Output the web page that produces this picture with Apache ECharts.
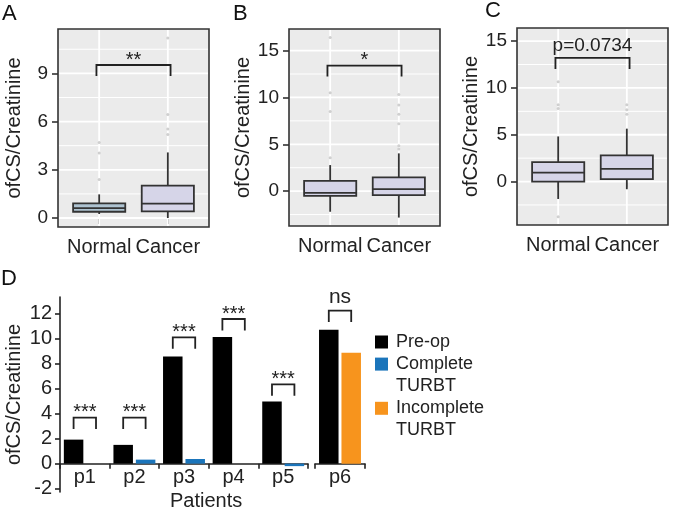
<!DOCTYPE html>
<html>
<head>
<meta charset="utf-8">
<script src="https://cdn.jsdelivr.net/npm/echarts@6/dist/echarts.min.js"></script>
<style>
html, body { margin: 0; padding: 0; background: #fff; }
#main { width: 673px; height: 512px; }
</style>
</head>
<body>
<div id="main"></div>
<script>
var groups = ['Normal', 'Cancer'];

// box stats per group: [lower whisker, Q1, median, Q3, upper whisker]
var boxA = [[0.25, 0.39, 0.62, 0.91, 1.47], [0, 0.41, 0.89, 2.02, 4.08]];
var boxB = [[-2.2, -0.5, -0.18, 1.1, 2.78], [-2.82, -0.43, 0.21, 1.47, 4.03]];
var boxC = [[-1.86, 0, 0.96, 2.07, 4.82], [-0.82, 0.25, 1.36, 2.79, 5.65]];
var boxFillA = ['#aec3d1', '#d6d5e8'];
var boxFillB = ['#d6d5e8', '#d6d5e8'];
var boxFillC = ['#d6d5e8', '#d6d5e8'];

// outliers: [group (1 or 2), value]
var outA = [[1, 2.4], [1, 4.04], [1, 4.7], [2, 5.19], [2, 5.54], [2, 6.44], [2, 11.2]];
var outB = [[1, 3.57], [1, 8.5], [1, 10.5], [1, 16.4], [2, 4.5], [2, 4.85], [2, 7.2], [2, 8.2], [2, 9.2], [2, 10.3]];
var outC = [[1, -3.75], [1, 7.8], [1, 8.2], [1, 10.65], [2, 7.2], [2, 7.68], [2, 8.2]];

// significance brackets: [x from, x to, top]
var sigA = [[0.96, 2.04, 9.52]];
var sigB = [[0.96, 2.04, 13.4]];
var sigC = [[0.96, 2.04, 13.2]];
var sigTextA = '**', sigTextB = '*', sigTextC = 'p=0.0734';

var ticksA = [0, 3, 6, 9];
var ticksBC = [0, 5, 10, 15];

// panel D
var patients = ['p1', 'p2', 'p3', 'p4', 'p5', 'p6'];
var preop = [1.92, 1.5, 8.58, 10.13, 4.98, 10.72];
var complete = [0, 0.32, 0.37, 0, -0.2, null];
var incomplete = [null, null, null, null, null, 8.88];
var dSigTop = [3.68, 3.68, 10.1, 11.57, 6.34, 12.24];
var dSigText = ['***', '***', '***', '***', '***', 'ns'];
var ticksD = [-2, 0, 2, 4, 6, 8, 10, 12];

var seriesNames = ['Pre-op', 'Complete\nTURBT', 'Incomplete\nTURBT'];
var seriesColors = ['#000000', '#1b75bb', '#f7941d'];

var FONT = '"Liberation Sans", Arial, sans-serif';
var TXT = '#222';
var BAR_W = 19.5;

var chart = echarts.init(document.getElementById('main'));

function gridLineData(majors, minors) {
  var d = [];
  minors.forEach(function (v) { d.push([0, v, 1]); });
  majors.forEach(function (v) { d.push([0, v, 1.8]); });
  [1, 2].forEach(function (v) { d.push([1, v, 1.8]); });
  return d;
}

function renderGridLine(params, api) {
  var cs = params.coordSys;
  var w = api.value(2);
  if (api.value(0) === 0) {
    var y = api.coord([1, api.value(1)])[1];
    return { type: 'line', shape: { x1: cs.x + 1, y1: y, x2: cs.x + cs.width - 1, y2: y },
      style: { stroke: '#ffffff', lineWidth: w } };
  }
  var x = api.coord([api.value(1), 0])[0];
  return { type: 'line', shape: { x1: x, y1: cs.y + 1, x2: x, y2: cs.y + cs.height - 1 },
    style: { stroke: '#ffffff', lineWidth: w } };
}

function boxRenderer(fills) {
  return function (params, api) {
    var x = api.value(0);
    var half = api.size([0.76, 0])[0] / 2;
    var lo = api.coord([x, api.value(1)]);
    var q1 = api.coord([x, api.value(2)]);
    var md = api.coord([x, api.value(3)]);
    var q3 = api.coord([x, api.value(4)]);
    var hi = api.coord([x, api.value(5)]);
    var st = { stroke: '#333333', lineWidth: 1.8 };
    return { type: 'group', children: [
      { type: 'line', shape: { x1: lo[0], y1: lo[1], x2: hi[0], y2: hi[1] }, style: st },
      { type: 'rect', shape: { x: q3[0] - half, y: q3[1], width: half * 2, height: q1[1] - q3[1] },
        style: { fill: fills[params.dataIndex], stroke: '#333333', lineWidth: 1.8 } },
      { type: 'line', shape: { x1: md[0] - half, y1: md[1], x2: md[0] + half, y2: md[1] }, style: st }
    ] };
  };
}

function sigRenderer(label, textGap, fontSize) {
  return function (params, api) {
    var a = api.coord([api.value(0), api.value(2)]);
    var b = api.coord([api.value(1), api.value(2)]);
    var leg = 11;
    return { type: 'group', children: [
      { type: 'polyline', shape: { points: [[a[0], a[1] + leg], a, b, [b[0], b[1] + leg]] },
        style: { stroke: '#222', lineWidth: 1.8, fill: null } },
      { type: 'text', x: (a[0] + b[0]) / 2, y: a[1] - textGap,
        style: { text: label, fill: TXT, font: fontSize + 'px ' + FONT, textAlign: 'center', textVerticalAlign: 'middle' } }
    ] };
  };
}

function boxData(stats) {
  return stats.map(function (s, i) { return [i + 1].concat(s); });
}

var grids = [
  { left: 58, top: 29, width: 151, height: 198 },
  { left: 289, top: 29, width: 151, height: 197 },
  { left: 517, top: 28, width: 151, height: 197 },
  { left: 60, top: 297, width: 248, height: 195 },
  { left: 315, top: 297, width: 50, height: 195 }
];
grids.forEach(function (g, i) {
  g.outerBoundsMode = 'none';
  g.containLabel = false;
  if (i < 3) {
    g.show = true;
    g.backgroundColor = '#ebebeb';
    g.borderColor = '#333333';
    g.borderWidth = 1.6;
  }
});

function boxXAxis(gi) {
  return {
    gridIndex: gi, type: 'value', min: 0.4, max: 2.6,
    splitLine: { show: false }, axisLine: { show: false },
    axisTick: { customValues: [1, 2], length: 6, lineStyle: { color: '#333', width: 1.6 } },
    axisLabel: { customValues: [1, 2], margin: 10, fontSize: 20, fontFamily: FONT, color: TXT,
      formatter: function (v) { return groups[Math.round(v) - 1]; } }
  };
}
function boxYAxis(gi, min, max, ticks) {
  return {
    gridIndex: gi, type: 'value', min: min, max: max,
    splitLine: { show: false }, axisLine: { show: false },
    axisTick: { customValues: ticks, length: 6, lineStyle: { color: '#333', width: 1.6 } },
    axisLabel: { customValues: ticks, margin: 10, fontSize: 19, fontFamily: FONT, color: TXT },
    name: 'ofCS/Creatinine', nameLocation: 'middle', nameGap: 34,
    nameTextStyle: { fontSize: 20, fontFamily: FONT, color: TXT }
  };
}

var xAxes = [boxXAxis(0), boxXAxis(1), boxXAxis(2)];
var yAxes = [boxYAxis(0, -0.56, 11.76, ticksA), boxYAxis(1, -3.72, 17.3, ticksBC), boxYAxis(2, -4.64, 16.4, ticksBC)];

var dAxisLine = { color: '#222', width: 1.6 };
[[3, 0, 5], [4, 5, 6]].forEach(function (part) {
  xAxes.push({
    gridIndex: part[0], type: 'category', data: patients.slice(part[1], part[2]),
    axisLine: { onZero: true, lineStyle: dAxisLine },
    axisTick: { show: true, length: 5, lineStyle: dAxisLine },
    axisLabel: { show: false }
  });
});
yAxes.push({
  gridIndex: 3, type: 'value', min: -2.27, max: 13.33,
  splitLine: { show: false },
  axisLine: { show: true, lineStyle: dAxisLine },
  axisTick: { show: true, customValues: ticksD, length: 5, lineStyle: dAxisLine },
  axisLabel: { customValues: ticksD, margin: 8, fontSize: 20, fontFamily: FONT, color: TXT },
  name: 'ofCS/Creatinine', nameLocation: 'middle', nameGap: 36,
  nameTextStyle: { fontSize: 20, fontFamily: FONT, color: TXT }
});
yAxes.push({ gridIndex: 4, type: 'value', min: -2.27, max: 13.33, show: false, splitLine: { show: false } });

var series = [];
var panels = [
  { box: boxA, fill: boxFillA, out: outA, sig: sigA, text: sigTextA, gap: 5, fs: 20,
    majors: ticksA, minors: [1.5, 4.5, 7.5, 10.5] },
  { box: boxB, fill: boxFillB, out: outB, sig: sigB, text: sigTextB, gap: 5, fs: 20,
    majors: ticksBC, minors: [-2.5, 2.5, 7.5, 12.5] },
  { box: boxC, fill: boxFillC, out: outC, sig: sigC, text: sigTextC, gap: 12, fs: 19,
    majors: ticksBC, minors: [-2.5, 2.5, 7.5, 12.5] }
];
panels.forEach(function (p, i) {
  series.push({ type: 'custom', xAxisIndex: i, yAxisIndex: i, z: 1, silent: true,
    data: gridLineData(p.majors, p.minors), renderItem: renderGridLine });
  series.push({ type: 'scatter', xAxisIndex: i, yAxisIndex: i, z: 2, silent: true,
    symbolSize: 3, itemStyle: { color: '#c4c4c4' }, data: p.out });
  series.push({ type: 'custom', xAxisIndex: i, yAxisIndex: i, z: 3, silent: true,
    data: boxData(p.box), renderItem: boxRenderer(p.fill) });
  series.push({ type: 'custom', xAxisIndex: i, yAxisIndex: i, z: 3, silent: true,
    data: p.sig, renderItem: sigRenderer(p.text, p.gap, p.fs) });
});

// panel D bars: grid 3 holds p1-p5, grid 4 holds p6
[[3, 0, 5], [4, 5, 6]].forEach(function (part) {
  var ai = part[0], from = part[1], to = part[2];
  series.push({ type: 'bar', name: 'Pre-op', xAxisIndex: ai, yAxisIndex: ai,
    barWidth: BAR_W, barGap: '15%', itemStyle: { color: seriesColors[0] },
    data: preop.slice(from, to) });
  series.push({ type: 'bar', name: 'Complete TURBT', xAxisIndex: ai, yAxisIndex: ai, stack: 'post' + ai,
    barWidth: BAR_W, barGap: '15%', itemStyle: { color: seriesColors[1] },
    data: complete.slice(from, to) });
  series.push({ type: 'bar', name: 'Incomplete TURBT', xAxisIndex: ai, yAxisIndex: ai, stack: 'post' + ai,
    barWidth: BAR_W, barGap: '15%', itemStyle: { color: seriesColors[2] },
    data: incomplete.slice(from, to) });
  var sigData = [];
  for (var k = from; k < to; k++) sigData.push([k - from, dSigTop[k], k]);
  series.push({ type: 'custom', xAxisIndex: ai, yAxisIndex: ai, z: 3, silent: true,
    data: sigData,
    renderItem: function (params, api) {
      var c = api.coord([api.value(0), api.value(1)]);
      var off = BAR_W * 1.15 / 2;
      var leg = 11.4;
      var label = dSigText[api.value(2)];
      var isNs = label === 'ns';
      return { type: 'group', children: [
        { type: 'polyline', shape: { points: [[c[0] - off, c[1] + leg], [c[0] - off, c[1]], [c[0] + off, c[1]], [c[0] + off, c[1] + leg]] },
          style: { stroke: '#222', lineWidth: 1.8, fill: null } },
        { type: 'text', x: c[0], y: c[1] - (isNs ? 13 : 5),
          style: { text: label, fill: TXT, font: (isNs ? 21 : 20) + 'px ' + FONT, textAlign: 'center', textVerticalAlign: 'middle' } }
      ] };
    } });
  // category labels hung below the zero line
  var labData = [];
  for (var j = from; j < to; j++) labData.push([j - from, 0, j]);
  series.push({ type: 'custom', xAxisIndex: ai, yAxisIndex: ai, z: 3, silent: true,
    data: labData,
    renderItem: function (params, api) {
      var c = api.coord([api.value(0), 0]);
      return { type: 'text', x: c[0], y: c[1] + 14,
        style: { text: patients[api.value(2)], fill: TXT, font: '20px ' + FONT, textAlign: 'center', textVerticalAlign: 'middle' } };
    } });
});

// legend for panel D
var legendChildren = [];
var lineIdx = 0;
seriesNames.forEach(function (name, i) {
  var y = lineIdx * 22.1;
  legendChildren.push({ type: 'rect', shape: { x: 0, y: y - 6.5, width: 13, height: 13 }, style: { fill: seriesColors[i] } });
  legendChildren.push({ type: 'text', x: 21, y: y - 11,
    style: { text: name, fill: TXT, font: '18px ' + FONT, lineHeight: 22.1, textVerticalAlign: 'top' } });
  lineIdx += name.split('\n').length;
});

chart.setOption({
  animation: false,
  textStyle: { fontFamily: FONT },
  title: [
    { text: 'A', left: 2, top: 3 },
    { text: 'B', left: 233, top: 3 },
    { text: 'C', left: 485, top: 0 },
    { text: 'D', left: 1, top: 268 }
  ].map(function (t) {
    t.padding = 0;
    t.textStyle = { fontSize: 22, fontWeight: 'normal', color: '#111', fontFamily: FONT };
    return t;
  }),
  grid: grids,
  xAxis: xAxes,
  yAxis: yAxes,
  series: series,
  graphic: [
    { type: 'group', left: 375, top: 331, children: legendChildren },
    { type: 'text', left: 170, top: 491,
      style: { text: 'Patients', fill: TXT, font: '20px ' + FONT } }
  ]
});
</script>
</body>
</html>
